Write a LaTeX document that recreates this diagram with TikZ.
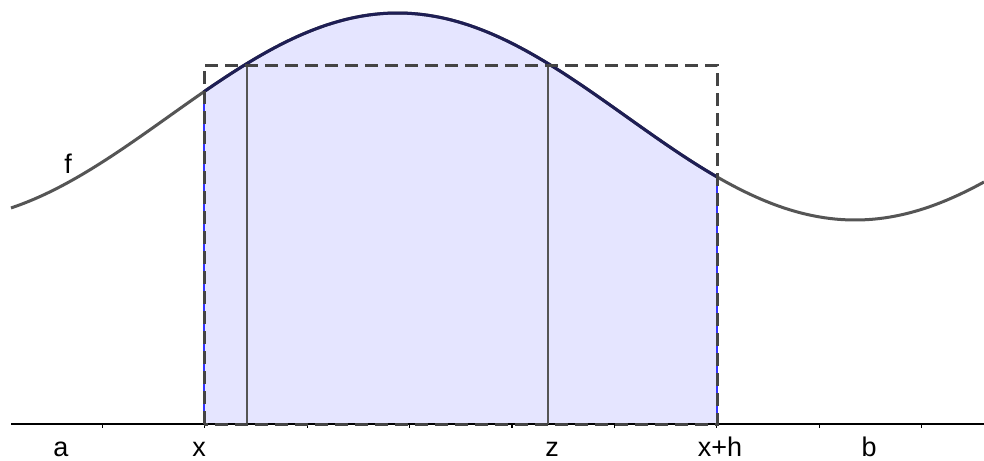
\documentclass[tikz,border=0pt]{standalone}
\usepackage{fontspec}
\setmainfont{Liberation Sans}
\begin{document}
\begin{tikzpicture}[x=1pt,y=-1pt,
  fcurve/.style={line width=3pt,color=fgray},
  icurve/.style={line width=3pt,color=fnavy},
  vline/.style={line width=2.8pt,color=fgray},
  dashbox/.style={line width=3pt,color=dgray,dash pattern=on 13pt off 7pt},
  lbl/.style={anchor=base,inner sep=0pt,font=\fontsize{27}{32}\selectfont}]
\definecolor{fgray}{HTML}{555555}
\definecolor{fnavy}{HTML}{1E1E55}
\definecolor{dgray}{HTML}{444444}
\definecolor{ffill}{HTML}{E5E5FF}
\definecolor{fblue}{HTML}{3333FF}
\useasboundingbox (0,0) rectangle (984,460);
\fill[white] (0,0) rectangle (984,460);
% integral fill
\fill[ffill] (204,424) -- plot[domain=204:717,samples=120] (\x,{116.5-103.5*cos((\x-397.5)/915*360)}) -- (717,424) -- cycle;
\draw[fblue,line width=1.2pt] (204,{116.5-103.5*cos((204-397.5)/915*360)}) -- (204,424) -- (717,424) -- (717,{116.5-103.5*cos((717-397.5)/915*360)});
% curve
\draw[fcurve] plot[domain=11:984,samples=300] (\x,{116.5-103.5*cos((\x-397.5)/915*360)});
\draw[icurve] plot[domain=204:717,samples=150] (\x,{116.5-103.5*cos((\x-397.5)/915*360)});
% axis
\coordinate (ax0) at (11,424);
\coordinate (ax1) at (984,424);
\draw[black,line width=1.2pt] (ax0) -- (ax1);
\foreach \k in {1,...,9} {\draw[black,line width=1.2pt] (102.4*\k,424) -- (102.4*\k,427.5);}
% vertical lines
\coordinate (p1) at (247,{116.5-103.5*cos((247-397.5)/915*360)});
\coordinate (p1b) at (247,424);
\coordinate (p2) at (548,{116.5-103.5*cos((548-397.5)/915*360)});
\coordinate (p2b) at (548,424);
\draw[vline] (p1b) -- (p1);
\draw[vline] (p2b) -- (p2);
% dashed rectangle
\draw[dashbox] (204,424) -- (204,65) -- (717,65) -- (717,424) -- cycle;
% labels
\node[lbl] (la) at (61,456) {a};
\node[lbl] (lx) at (199,456) {x};
\node[lbl] (lz) at (552,456) {z};
\node[lbl] (lxh) at (720,456) {x+h};
\node[lbl] (lb) at (869,456) {b};
\node[lbl] (lf) at (68,173) {f};
\end{tikzpicture}
\end{document}
